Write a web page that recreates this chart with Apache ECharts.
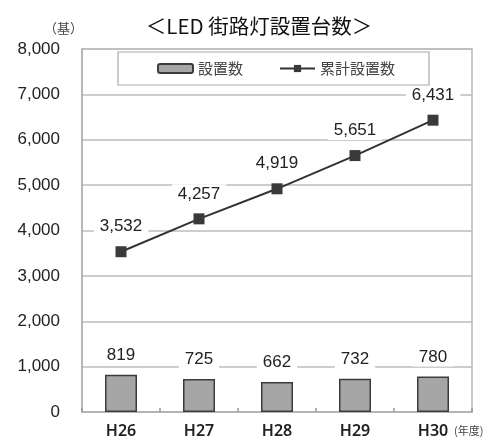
<!DOCTYPE html>
<html><head><meta charset="utf-8">
<script src="https://cdn.jsdelivr.net/npm/echarts@6/dist/echarts.min.js"></script>
<style>html,body{margin:0;padding:0;background:#fff}#c{width:496px;height:439px}</style>
</head><body><div id="c"></div>
<script>
var categories = ['H26', 'H27', 'H28', 'H29', 'H30'];
var installed = [819, 725, 662, 732, 780];
var cumulative = [3532, 4257, 4919, 5651, 6431];
var yTicks = {min: 0, max: 8000, interval: 1000};
var seriesNames = ['設置数', '累計設置数'];
var titleText = '＜LED 街路灯設置台数＞';

var fontNum = 'Liberation Sans, Noto Sans, sans-serif';
var fontJp = 'Noto Sans CJK JP, sans-serif';
function fmt(v){ return String(v).replace(/\B(?=(\d{3})+(?!\d))/g, ','); }

var chart = echarts.init(document.getElementById('c'), null, {renderer:'canvas'});
chart.setOption({
  animation: false,
  backgroundColor: '#fff',
  title: {
    text: titleText, left: 254, top: 11, textAlign: 'center',
    textStyle: {fontFamily: fontJp, fontSize: 20.5, fontWeight: 'normal', color: '#111'}
  },
  legend: {
    data: seriesNames,
    left: 118, top: 52,
    padding: [9, 34, 9, 39],
    itemGap: 36, itemWidth: 35, itemHeight: 9,
    borderColor: '#aaa', borderWidth: 1.2, backgroundColor: '#fff',
    textStyle: {fontFamily: fontJp, fontSize: 15, color: '#444'}
  },
  grid: {
    left: 82, right: 24, top: 49, bottom: 26,
    show: true, borderColor: '#b9b9b9', borderWidth: 1.5, backgroundColor: 'transparent'
  },
  xAxis: {
    type: 'category', data: categories,
    axisLine: {show: true, lineStyle: {color: '#b0b0b0', width: 1.5}},
    axisTick: {show: true, inside: true, length: 4, lineStyle: {color: '#999', width: 1.5}},
    axisLabel: {margin: 11, fontFamily: 'Noto Sans, sans-serif', fontSize: 16, color: '#222', fontWeight: 600},
    name: '(年度)', nameLocation: 'end', nameGap: -22,
    nameTextStyle: {fontFamily: fontJp, fontSize: 11, color: '#444', verticalAlign: 'top', align: 'left', padding: [13, 0, 0, 0]}
  },
  yAxis: {
    type: 'value', min: yTicks.min, max: yTicks.max, interval: yTicks.interval,
    name: '（基）', nameLocation: 'end', nameGap: 14,
    nameTextStyle: {fontFamily: fontJp, fontSize: 13, color: '#444', align: 'center', padding: [0, 0, 0, -37]},
    axisLine: {show: true, lineStyle: {color: '#b0b0b0', width: 1.5}},
    axisTick: {show: false},
    axisLabel: {margin: 22, fontFamily: fontNum, fontSize: 17, color: '#222', formatter: function(v){return fmt(v);}},
    splitLine: {show: true, lineStyle: {color: '#bdbdbd', width: 1.5}}
  },
  series: [
    {
      name: seriesNames[0], type: 'bar', data: installed, barWidth: 32,
      itemStyle: {color: '#a6a6a6', borderColor: '#3c3c3c', borderWidth: 1.5},
      label: {show: true, position: 'top', distance: 10, fontFamily: fontNum, fontSize: 17, color: '#222',
        backgroundColor: '#fff', padding: [1, 6], formatter: function(p){return fmt(p.value);}}
    },
    {
      name: seriesNames[1], type: 'line', data: cumulative,
      symbol: 'rect', symbolSize: 11,
      lineStyle: {color: '#333', width: 2},
      itemStyle: {color: '#3a3a3a'},
      label: {show: true, position: 'top', distance: 10, fontFamily: fontNum, fontSize: 17, color: '#222',
        backgroundColor: '#fff', padding: [1, 6], formatter: function(p){return fmt(p.value);}}
    }
  ]
});
</script></body></html>
